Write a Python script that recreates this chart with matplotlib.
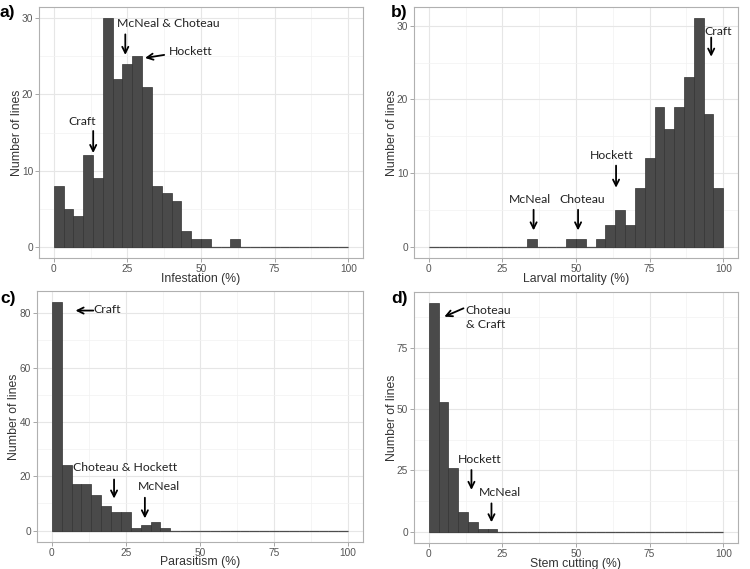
import numpy as np
import matplotlib
matplotlib.use("Agg")
import matplotlib.pyplot as plt
from matplotlib.ticker import MultipleLocator

edges = np.linspace(0, 100, 31)

infestation = [8, 5, 4, 12, 9, 30, 22, 24, 25, 21, 8, 7, 6, 2, 1, 1, 0, 0, 1, 0,
               0, 0, 0, 0, 0, 0, 0, 0, 0, 0]
mortality = [0, 0, 0, 0, 0, 0, 0, 0, 0, 0, 1, 0, 0, 0, 1, 1, 0, 1, 3, 5,
             3, 8, 12, 19, 16, 19, 23, 31, 18, 8]
parasitism = [84, 24, 17, 17, 13, 9, 7, 7, 1, 2, 3, 1, 0, 0, 0, 0, 0, 0, 0, 0,
              0, 0, 0, 0, 0, 0, 0, 0, 0, 0]
stem_cut = [93, 53, 26, 8, 4, 1, 1, 0, 0, 0, 0, 0, 0, 0, 0, 0, 0, 0, 0, 0,
            0, 0, 0, 0, 0, 0, 0, 0, 0, 0]

xlabels = ["Infestation (%)", "Larval mortality (%)", "Parasitism (%)", "Stem cutting (%)"]
panel_tags = ["a)", "b)", "c)", "d)"]
ysteps = [10, 10, 20, 25]

# (text, text x, text y, arrow tail, arrow head)
notes = [
    [("Craft", 9.8, 16.5, (13.4, 15.2), (13.4, 12.3)),
     ("McNeal & Choteau", 39, 29.3, (24.3, 27.9), (24.3, 25.2)),
     ("Hockett", 46.6, 25.6, (37.5, 25.2), (31.0, 24.8))],
    [("McNeal", 34.2, 6.4, (35.6, 5.0), (35.6, 2.2)),
     ("Choteau", 52, 6.4, (50.7, 5.0), (50.7, 2.2)),
     ("Hockett", 62.1, 12.4, (63.6, 11.0), (63.6, 8.0)),
     ("Craft", 98.1, 29.2, (95.9, 28.4), (95.9, 25.8))],
    [("Craft", 18.8, 81.3, (14.0, 81.0), (8.0, 81.0)),
     ("Choteau & Hockett", 24.8, 23.1, (21.0, 18.8), (21.0, 11.8)),
     ("McNeal", 36.3, 16.2, (31.4, 12.1), (31.4, 4.5))],
    [("Choteau\n& Craft", 20, 87.2, (11.8, 91.0), (5.3, 87.6)),
     ("Hockett", 17.4, 29.2, (14.5, 25.1), (14.5, 17.0)),
     ("McNeal", 24.1, 16.0, (21.3, 11.5), (21.3, 3.8))],
]

datasets = [infestation, mortality, parasitism, stem_cut]

# axes boxes in pixels: left, top, right, bottom
boxes = [(39, 7, 363, 258), (414, 7, 738, 258), (37, 291, 363, 542), (414, 292, 738, 543)]
tag_pos = [(0, 12), (391, 12), (0, 298), (391, 298)]
ylab_x = [17, 392, 14, 392]

W, H = 750, 569
fig = plt.figure(figsize=(W / 100, H / 100), dpi=100)

for i, counts in enumerate(datasets):
    l, t, r, b = boxes[i]
    ax = fig.add_axes([l / W, 1 - b / H, (r - l) / W, (b - t) / H])
    counts = np.array(counts)
    ax.bar(edges[:-1], counts, width=np.diff(edges), align="edge",
           color="#4a4a4a", edgecolor="#333333", linewidth=0.5, zorder=3)
    ax.hlines(0, edges[0], edges[-1], color="#888888", linewidth=1.0, zorder=2)
    ymax = counts.max()
    ax.set_xlim(-5, 105)
    ax.set_ylim(-0.05 * ymax, 1.05 * ymax)
    ax.xaxis.set_major_locator(MultipleLocator(25))
    ax.xaxis.set_minor_locator(MultipleLocator(12.5))
    ax.yaxis.set_major_locator(MultipleLocator(ysteps[i]))
    ax.yaxis.set_minor_locator(MultipleLocator(ysteps[i] / 2))
    ax.grid(which="major", color="#e6e6e6", linewidth=0.8, zorder=0)
    ax.grid(which="minor", color="#f2f2f2", linewidth=0.5, zorder=0)
    ax.set_axisbelow(True)
    for s in ax.spines.values():
        s.set_color("#b0b0b0")
        s.set_linewidth(0.8)
    ax.tick_params(which="major", length=3, width=0.6, color="#999999",
                   labelsize=7.3, labelcolor="#555555", pad=1.2)
    ax.tick_params(which="minor", length=0)
    for lab in ax.get_xticklabels() + ax.get_yticklabels():
        lab.set_fontfamily("Liberation Sans")
    ax.set_xlabel(xlabels[i], fontsize=8.8, family="Liberation Sans", color="#333333",
                  va="center")
    ax.set_ylabel("Number of lines", fontsize=8.8, family="Liberation Sans", color="#333333",
                  va="center")
    ax.xaxis.set_label_coords(0.5, -20.5 / (b - t))
    ax.yaxis.set_label_coords((ylab_x[i] - l) / (r - l), 0.5)

    for txt, tx, ty, tail, head in notes[i]:
        ax.annotate("", xy=head, xytext=tail,
                    arrowprops=dict(arrowstyle="->", color="black", lw=1.3,
                                    mutation_scale=11, shrinkA=0, shrinkB=0), zorder=5)
        ha = "left" if "\n" in txt else "center"
        x = tx - 7.5 if ha == "left" else tx
        ax.text(x, ty, txt, ha=ha, va="center", fontsize=8.8, family="Lato",
                color="#222222", zorder=6, linespacing=1.3)

    px, py = tag_pos[i]
    fig.text(px / W, 1 - py / H, panel_tags[i],
             fontsize=12.5, fontweight="bold", family="Liberation Sans",
             ha="left", va="center")

fig.savefig("out.png", dpi=100)
